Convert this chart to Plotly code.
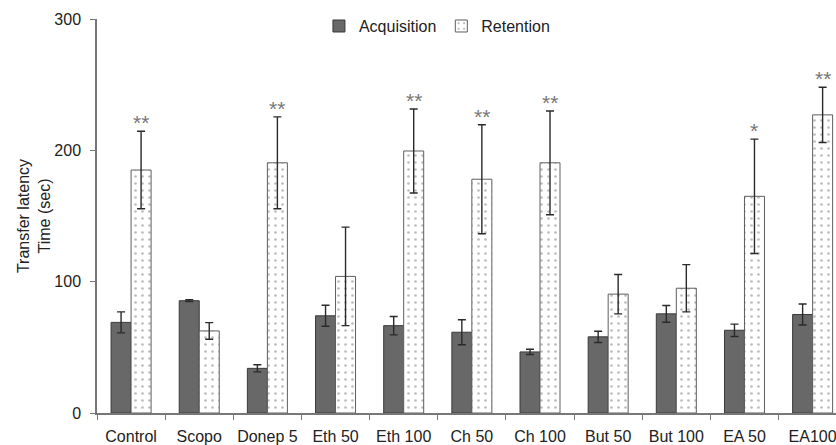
import plotly.graph_objects as go

groups = ["Control", "Scopo", "Donep 5", "Eth 50", "Eth 100", "Ch 50",
          "Ch 100", "But 50", "But 100", "EA 50", "EA100"]
acquisition = [69, 85.5, 34, 74, 66.5, 61.5, 46.5, 58, 75.5, 63, 75]
acquisition_err = [8, 0.7, 2.7, 8, 7, 9.5, 2, 4.3, 6.4, 4.7, 8]
retention = [185, 62.5, 190.5, 104, 199.5, 178, 190.5, 90.5, 95, 165, 227]
retention_err = [29.5, 6.3, 35, 37.5, 32, 41.5, 39.5, 15, 18, 43.5, 21]
significance = ["**", "", "**", "", "**", "**", "**", "", "", "*", "**"]

FONT = "Arial, 'Liberation Sans', sans-serif"
TXT = "#222222"
BARGAP = 0.413

fig = go.Figure()
fig.add_trace(go.Bar(
    name="Acquisition", x=groups, y=acquisition,
    marker=dict(color="#686868", line=dict(color="#3a3a3a", width=1)),
    error_y=dict(type="data", array=acquisition_err, color="#2a2a2a",
                 thickness=1.4, width=4),
))
fig.add_trace(go.Bar(
    name="Retention", x=groups, y=retention,
    marker=dict(color="white", line=dict(color="#5e5e5e", width=1),
                pattern=dict(shape=".", fgcolor="#7a7a7a", bgcolor="white",
                             size=7, solidity=0.12)),
    error_y=dict(type="data", array=retention_err, color="#2a2a2a",
                 thickness=1.4, width=4),
))

# significance marks above the retention error bars
offset = (1 - BARGAP) / 4
for i, (mark, v, e) in enumerate(zip(significance, retention, retention_err)):
    if mark:
        fig.add_annotation(x=i + offset, y=v + e, text=mark, showarrow=False,
                           yanchor="bottom", yshift=-5,
                           font=dict(family=FONT, size=21, color="#777777"))

fig.update_layout(
    width=836, height=445,
    margin=dict(l=97, r=0, t=19, b=32),
    paper_bgcolor="white", plot_bgcolor="white",
    barmode="group", bargap=BARGAP, bargroupgap=0,
    font=dict(family=FONT, size=16, color=TXT),
    showlegend=True,
    legend=dict(orientation="h", x=0.46, xanchor="center", y=0.982,
                yanchor="middle", bgcolor="rgba(0,0,0,0)",
                font=dict(family=FONT, size=16, color=TXT),
                itemwidth=30),
    xaxis=dict(
        range=[-0.5, 10.343], showline=True, linecolor="#777777", linewidth=1.5,
        ticks="outside", tickson="boundaries", ticklen=5, tickcolor="#777777",
        ticklabelstandoff=8, tickangle=0, automargin=False,
        tickfont=dict(family=FONT, size=16, color=TXT),
        showgrid=False, zeroline=False,
    ),
    yaxis=dict(
        range=[0, 300], tickvals=[0, 100, 200, 300], showline=True,
        linecolor="#777777", linewidth=1.5, ticks="outside", ticklen=5,
        tickcolor="#777777", showgrid=False, zeroline=False,
        ticklabelstandoff=6, automargin=False,
        tickfont=dict(family=FONT, size=16, color=TXT),
        title=dict(text="Transfer latency<br>Time (sec)", standoff=0,
                   font=dict(family=FONT, size=16, color=TXT)),
    ),
)

fig.write_html("out.html")
